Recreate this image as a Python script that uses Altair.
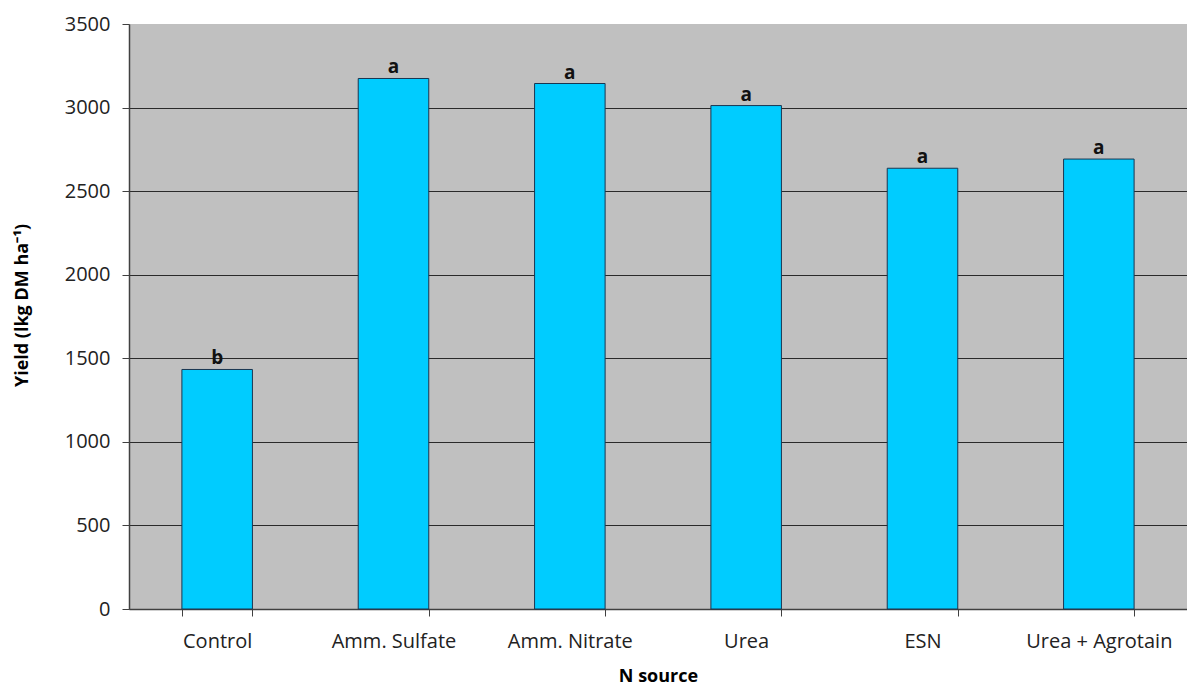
import altair as alt
import pandas as pd

sources = ["Control", "Amm. Sulfate", "Amm. Nitrate", "Urea", "ESN", "Urea + Agrotain"]
yields = [1433, 3174, 3144, 3012, 2637, 2692]
letters = ["b", "a", "a", "a", "a", "a"]

df = pd.DataFrame({"source": sources, "yield": yields, "letter": letters})

FONT = "Open Sans"

x = alt.X(
    "source:N",
    sort=sources,
    scale=alt.Scale(paddingInner=0.6, paddingOuter=0.3),
    axis=alt.Axis(
        title="N source",
        titleFont=FONT, titleFontSize=18, titleFontWeight="bold", titleColor="#000000",
        titleY=67, titleBaseline="middle",
        labelFont=FONT, labelFontSize=20, labelColor="#222222", labelAngle=0,
        labelPadding=15,
        tickBand="extent", tickSize=7, tickColor="#404040", tickWidth=1,
        domainColor="#404040", domainWidth=1.5,
    ),
)

y = alt.Y(
    "yield:Q",
    scale=alt.Scale(domain=[0, 3500], nice=False),
    axis=alt.Axis(
        title="Yield (lkg DM ha⁻¹)",
        titleFont=FONT, titleFontSize=18, titleFontWeight="bold", titleColor="#000000",
        titleAngle=270, titleX=-107, titleY=281, titleBaseline="middle", titleAlign="center",
        values=[0, 500, 1000, 1500, 2000, 2500, 3000, 3500],
        format="d",
        labelFont=FONT, labelFontSize=20, labelColor="#222222", labelPadding=12,
        tickSize=7, tickColor="#404040", domainColor="#404040", domainWidth=1.5,
        grid=True, gridColor="#2a2a2a", gridWidth=1,
        gridOpacity={"condition": {"test": "datum.value === 3500", "value": 0}, "value": 1},
    ),
)

bars = alt.Chart(df).mark_bar(color="#00CCFF", stroke="#1a3550", strokeWidth=1).encode(x=x, y=y)

labels = alt.Chart(df).mark_text(
    font=FONT, fontSize=19, fontWeight="bold", color="#111111", baseline="bottom", dy=-1
).encode(x=alt.X("source:N", sort=sources), y=alt.Y("yield:Q"), text="letter:N")

chart = (
    alt.layer(bars, labels)
    .properties(
        width=1058,
        height=585,
        autosize=alt.AutoSizeParams(type="none"),
        padding={"left": 121, "top": 16, "right": 0, "bottom": 78},
        background="#ffffff",
    )
    .configure_view(fill="#C0C0C0", stroke=None)
)

chart.save("out.html", embed_options={"renderer": "svg", "actions": False})
